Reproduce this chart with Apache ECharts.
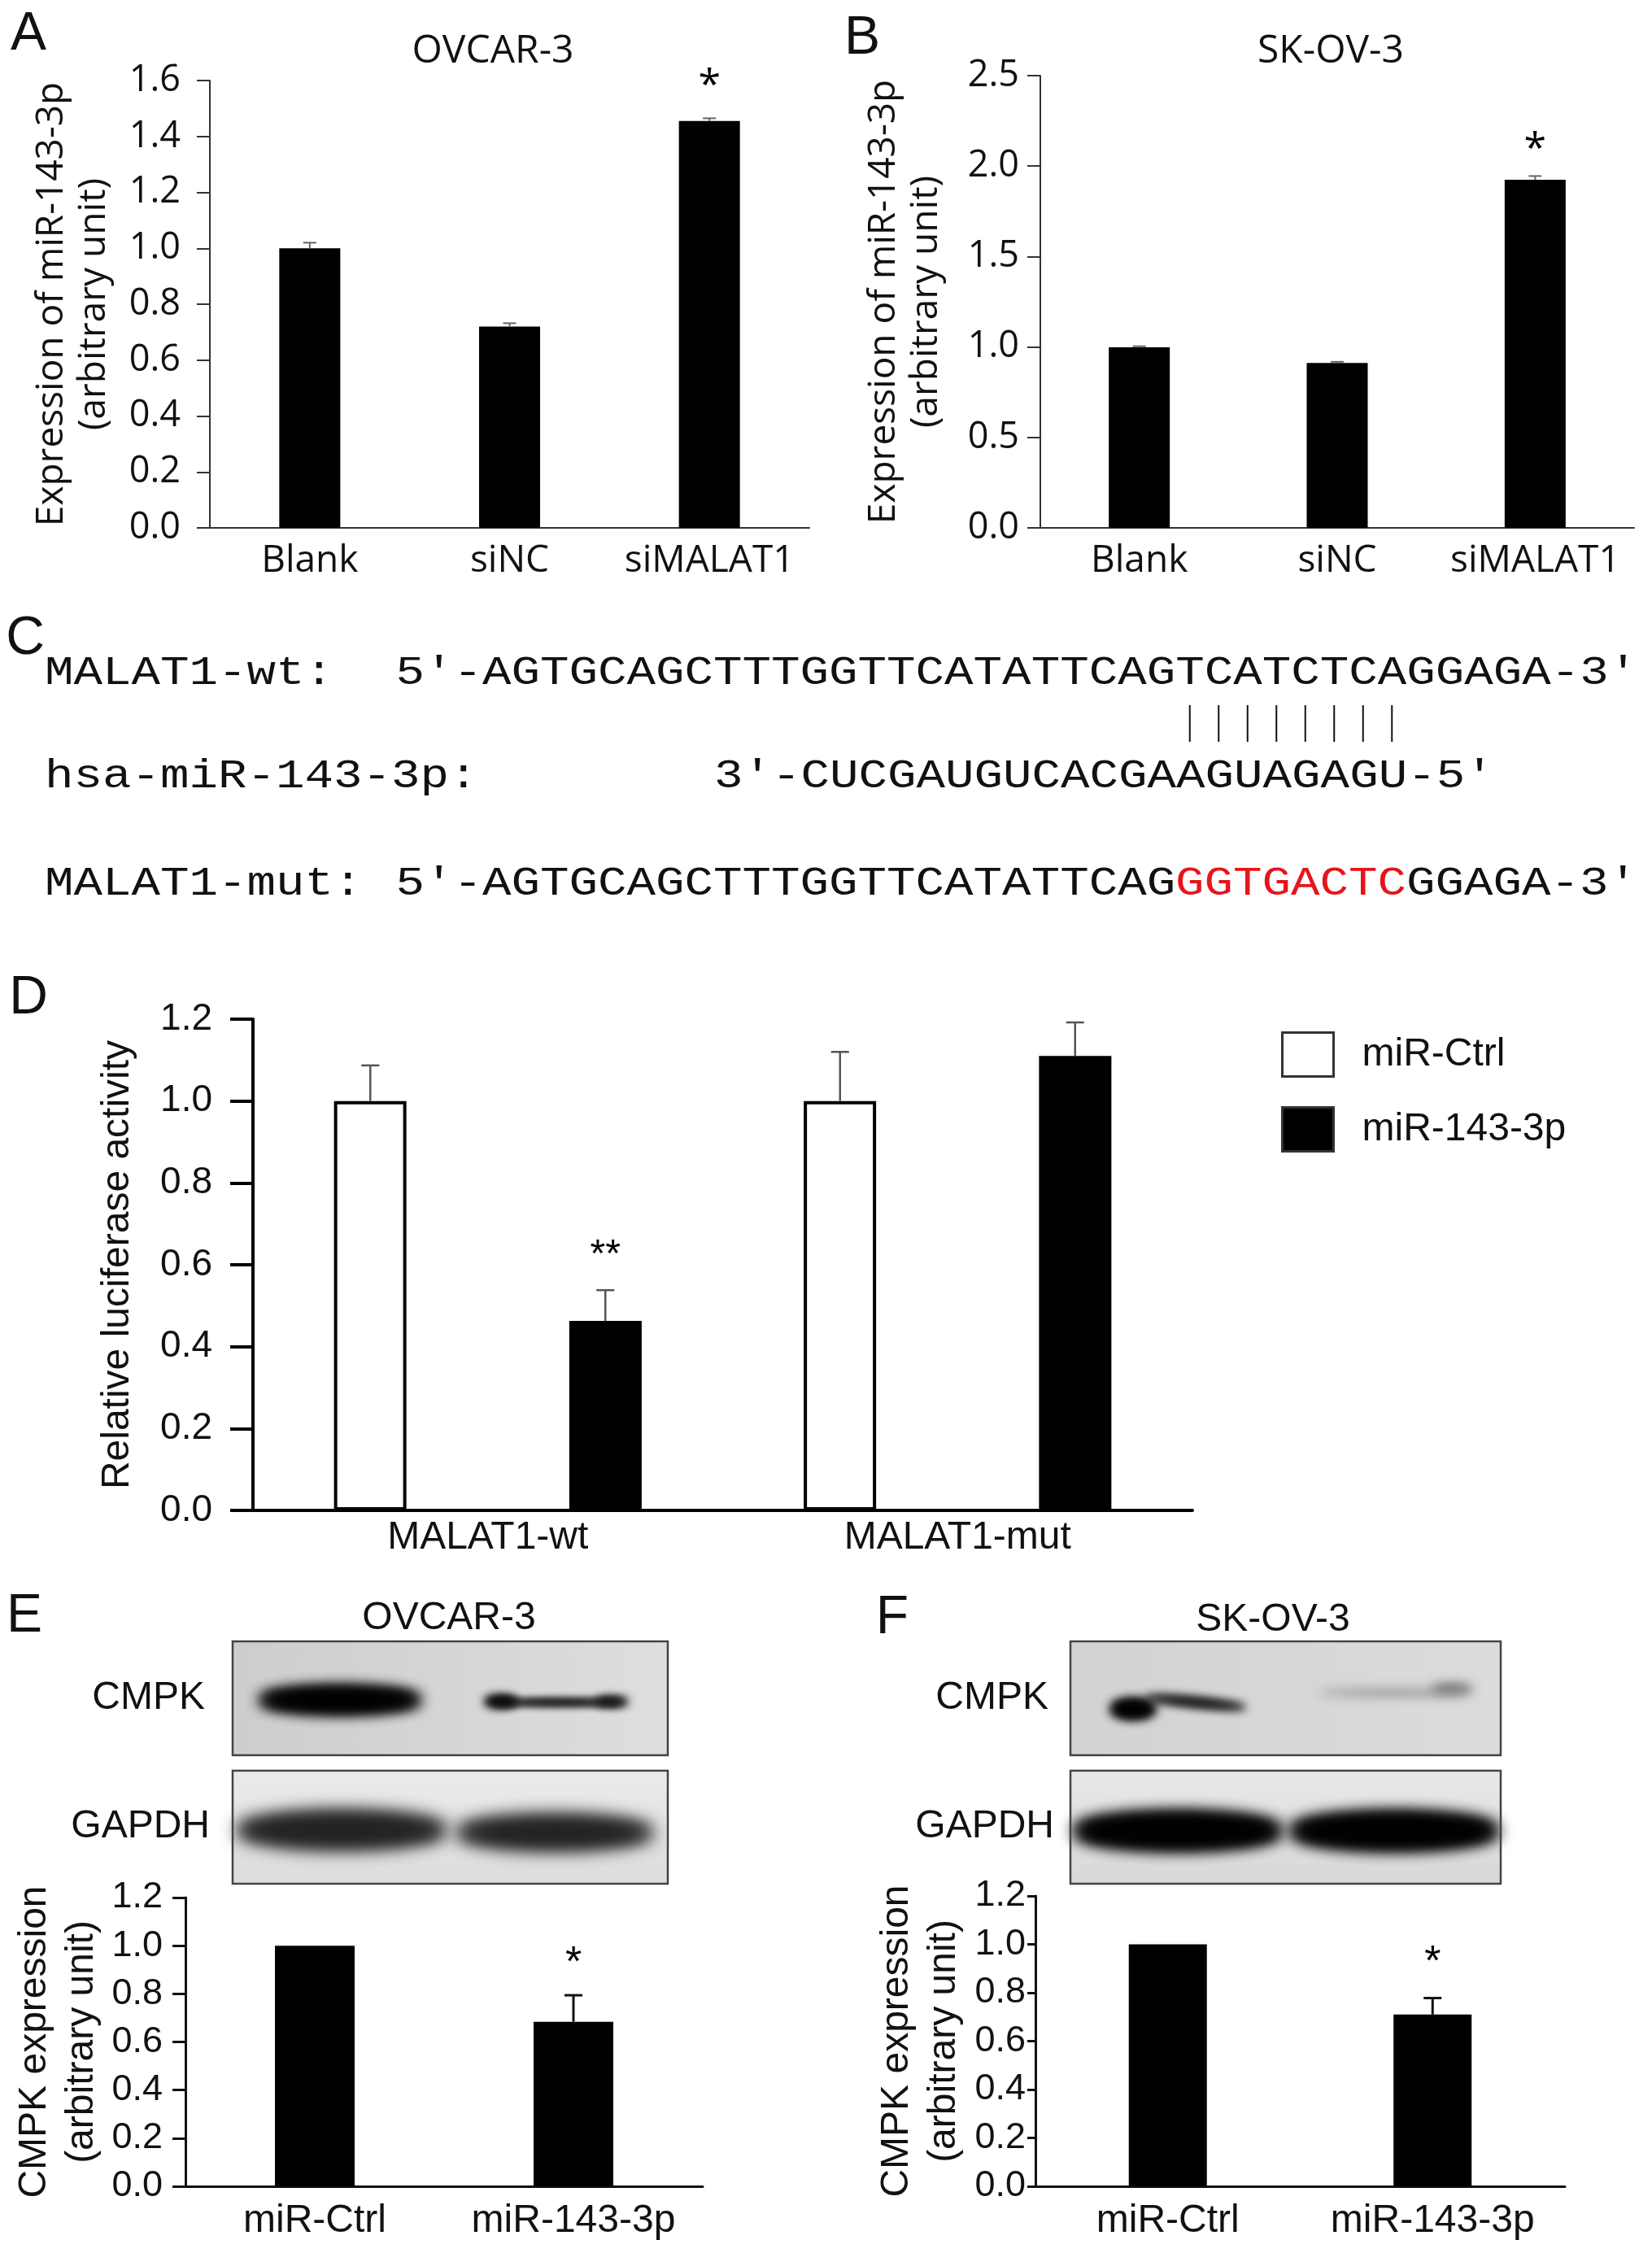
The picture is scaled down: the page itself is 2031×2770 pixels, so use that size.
<!DOCTYPE html>
<html>
<head>
<meta charset="utf-8">
<script src="https://cdn.jsdelivr.net/npm/echarts@6/dist/echarts.min.js"></script>
<style>
  html, body { margin: 0; padding: 0; background: #fff; }
  #main { width: 2031px; height: 2770px; }
</style>
</head>
<body>
<div id="main"></div>
<script>
// ---- A / B : miR-143-3p expression after MALAT1 knockdown
const abCats = ['Blank', 'siNC', 'siMALAT1'];
const aVals = [1.0, 0.72, 1.455];
const aErr = [0.02, 0.012, 0.01];
const aSig = ['', '', '*'];
const bVals = [0.998, 0.912, 1.925];
const bErr = [0.006, 0.006, 0.02];
const bSig = ['', '', '*'];

// ---- C : binding site sequences
const wtLabel = 'MALAT1-wt:';
const mirLabel = 'hsa-miR-143-3p:';
const mutLabel = 'MALAT1-mut:';
const wtSeq = '5′-AGTGCAGCTTTGGTTCATATTCAGTCATCTCAGGAGA-3′';
const mirSeq = '3′-CUCGAUGUCACGAAGUAGAGU-5′';
const mutHead = '5′-AGTGCAGCTTTGGTTCATATTCAG';
const mutSite = 'GGTGACTC';
const mutTail = 'GGAGA-3′';
const pairIdx = [24, 25, 26, 27, 28, 29, 30, 31]; // paired nucleotides of wt

// ---- D : luciferase reporter
const dCats = ['MALAT1-wt', 'MALAT1-mut'];
const dCtrl = [1.0, 1.0];
const dCtrlErr = [0.087, 0.12];
const dCtrlSig = ['', ''];
const dMir = [0.463, 1.11];
const dMirErr = [0.075, 0.082];
const dMirSig = ['**', ''];

// ---- E / F : CMPK western blot quantification
const efCats = ['miR-Ctrl', 'miR-143-3p'];
const eVals = [1.0, 0.684];
const eErr = [0, 0.11];
const eSig = ['', '*'];
const fVals = [1.0, 0.71];
const fErr = [0, 0.068];
const fSig = ['', '*'];

const SANS = "'Liberation Sans', Arial, sans-serif";
const OPEN = "'Open Sans', sans-serif";
const MONO = "'Liberation Mono', 'DejaVu Sans Mono', monospace";

const chart = echarts.init(document.getElementById('main'));

function catAxis(gi, data, fam, size, margin, lw, col) {
  return {
    type: 'category', gridIndex: gi, data: data,
    axisLine: { lineStyle: { color: col, width: lw } },
    axisTick: { show: false },
    axisLabel: { fontFamily: fam, fontSize: size, color: '#111', margin: margin, interval: 0 }
  };
}

function valAxis(gi, max, step, fam, size, margin, lw, col, tickLen, name, nameSize, nameGap, lh) {
  return {
    type: 'value', gridIndex: gi, min: 0, max: max, interval: step,
    splitLine: { show: false },
    axisLine: { show: true, lineStyle: { color: col, width: lw } },
    axisTick: { show: true, length: tickLen, lineStyle: { color: col, width: lw } },
    axisLabel: { fontFamily: fam, fontSize: size, color: '#111', margin: margin,
      formatter: v => v.toFixed(1) },
    name: name, nameLocation: 'middle', nameRotate: 90, nameGap: nameGap,
    nameTextStyle: { fontFamily: fam, fontSize: nameSize, color: '#111', lineHeight: lh }
  };
}

function errSeries(gi, vals, errs, sigs, o) {
  return {
    type: 'custom', xAxisIndex: gi, yAxisIndex: gi, z: 5,
    data: vals.map((v, i) => [i, v, errs[i]]),
    encode: { x: 0, y: 1 },
    renderItem: function (params, api) {
      const i = api.value(0), v = api.value(1), e = api.value(2);
      const p0 = api.coord([i, v]);
      const p1 = api.coord([i, v + e]);
      const cx = p0[0] + o.shift;
      const kids = [];
      if (e > 0) {
        kids.push({ type: 'line', shape: { x1: cx, y1: p0[1], x2: cx, y2: p1[1] },
          style: { stroke: o.color, lineWidth: o.lw } });
        kids.push({ type: 'line', shape: { x1: cx - o.cap, y1: p1[1], x2: cx + o.cap, y2: p1[1] },
          style: { stroke: o.color, lineWidth: o.lw } });
      }
      const s = sigs[params.dataIndex];
      if (s) {
        kids.push({ type: 'text', x: cx, y: p1[1] - o.starGap,
          style: { text: s, font: o.starFont, fill: '#000', align: 'center', verticalAlign: 'middle' } });
      }
      return { type: 'group', children: kids };
    }
  };
}

// ---- graphic: letters, titles, sequences, blots
const g = [];
function txt(x, y, text, font, align, fill, extra) {
  g.push(Object.assign({ type: 'text', x: x, y: y,
    style: { text: text, font: font, fill: fill || '#111', align: align || 'center', verticalAlign: 'middle' } }, extra || {}));
}
const LET = '66px ' + SANS;
txt(35, 43, 'A', LET); txt(1060, 48, 'B', LET); txt(31, 786, 'C', LET);
txt(35, 1228, 'D', LET); txt(30, 1988, 'E', LET); txt(1097, 1990, 'F', LET);
txt(606, 63, 'OVCAR-3', '48px ' + OPEN);
txt(1636, 63, 'SK-OV-3', '48px ' + OPEN);
txt(552, 1990, 'OVCAR-3', '48px ' + SANS);
txt(1565, 1992, 'SK-OV-3', '48px ' + SANS);

// sequences, monospace stretched to the reference pitch
const ADV = 35.5, SX = ADV / (50 * 0.6);
const MF = '50px ' + MONO;
const seqX = 486.5;
function mono(x, y, text, fill) {
  txt(x, y, text, MF, 'left', fill || '#111', { scaleX: SX });
}
mono(55, 828, wtLabel); mono(seqX, 828, wtSeq);
mono(55, 955, mirLabel); mono(878, 955, mirSeq);
mono(55, 1087, mutLabel); mono(seqX, 1087, mutHead);
mono(seqX + mutHead.length * ADV, 1087, mutSite, '#e8141c');
mono(seqX + (mutHead.length + mutSite.length) * ADV, 1087, mutTail);
pairIdx.forEach(k => {
  const x = seqX + (3 + k + 0.5) * ADV;
  g.push({ type: 'line', shape: { x1: x, y1: 867, x2: x, y2: 912 }, style: { stroke: '#111', lineWidth: 2 } });
});

// western blot images
function box(x, y, w, h, c1, c2, dir) {
  g.push({ type: 'rect', z: 1, shape: { x: x, y: y, width: w, height: h },
    style: { fill: new echarts.graphic.LinearGradient(0, 0, dir ? 1 : 0, dir ? 0 : 1,
      [{ offset: 0, color: c1 }, { offset: 1, color: c2 }]) } });
  g.push({ type: 'rect', z: 3, shape: { x: x, y: y, width: w, height: h },
    style: { fill: 'none', stroke: '#444', lineWidth: 2.5 } });
}
// soft band: only the blurred shadow of an off-canvas ellipse is visible
const OFF = 4000;
function band(cx, cy, rx, ry, col, blur, rot, passes) {
  for (let p = 0; p < (passes || 1); p++) {
    g.push({ type: 'ellipse', z: 2, x: cx - OFF, y: cy, rotation: rot || 0,
      shape: { cx: 0, cy: 0, rx: rx, ry: ry },
      style: { fill: col, shadowBlur: blur, shadowColor: col, shadowOffsetX: OFF } });
  }
}
// E
box(286, 2018, 535, 140, '#cdcdcd', '#dedede', true);
box(286, 2177, 535, 139, '#ebebeb', '#dcdcdc', false);
band(418, 2090, 98, 14, '#000', 18, 0, 3);
band(616, 2092, 20, 7, '#000', 12, 0, 2);
band(688, 2093, 78, 4, '#111', 10, 0, 2);
band(752, 2092, 20, 5, '#111', 12, 0, 2);
band(420, 2250, 128, 21, '#222', 22, 0, 2);
band(682, 2253, 120, 19, '#222', 22, 0, 2);
// F
box(1316, 2018, 529, 140, '#d2d2d2', '#dcdcdc', true);
box(1316, 2177, 529, 139, '#e8e8e8', '#d8d8d8', false);
band(1393, 2101, 26, 10, '#000', 14, 0, 3);
band(1470, 2093, 62, 5, '#111', 12, -0.1, 2);
band(1715, 2081, 95, 4, '#888', 14, 0, 1);
band(1785, 2076, 26, 6, '#666', 14, 0, 1);
band(1448, 2251, 126, 20, '#000', 20, 0, 3);
band(1714, 2251, 126, 20, '#000', 20, 0, 3);
txt(252, 2088, 'CMPK', '48px ' + SANS, 'right');
txt(258, 2246, 'GAPDH', '48px ' + SANS, 'right');
txt(1289, 2088, 'CMPK', '48px ' + SANS, 'right');
txt(1296, 2246, 'GAPDH', '48px ' + SANS, 'right');

const yName = 'Expression of miR-143-3p\n(arbitrary unit)';
const efName = 'CMPK expression\n(arbitrary unit)';
const dShift = 144.5;

const option = {
  backgroundColor: '#fff',
  animation: false,
  grid: [
    { left: 258, top: 99, width: 737, height: 550 },
    { left: 1279, top: 93, width: 730, height: 556 },
    { left: 311, top: 1253, width: 1155, height: 604 },
    { left: 228, top: 2333, width: 636, height: 355 },
    { left: 1273, top: 2331, width: 651, height: 357 }
  ],
  xAxis: [
    catAxis(0, abCats, OPEN, 46, 18, 2, '#333'),
    catAxis(1, abCats, OPEN, 46, 18, 2, '#333'),
    catAxis(2, dCats, SANS, 48, 10, 4, '#000'),
    catAxis(3, efCats, SANS, 48, 19, 3, '#111'),
    catAxis(4, efCats, SANS, 48, 19, 3, '#111')
  ],
  yAxis: [
    valAxis(0, 1.6, 0.2, OPEN, 45, 36, 2, '#333', 16, yName, 46, 116, 52),
    valAxis(1, 2.5, 0.5, OPEN, 45, 26, 2, '#333', 16, yName, 46, 114, 52),
    valAxis(2, 1.2, 0.2, SANS, 46, 50, 4, '#000', 28, 'Relative luciferase activity', 48, 138, 56),
    valAxis(3, 1.2, 0.2, SANS, 45, 28, 3, '#111', 16, efName, 48, 98, 58),
    valAxis(4, 1.2, 0.2, SANS, 45, 12, 3, '#111', 10, efName, 48, 83, 58)
  ],
  legend: {
    data: ['miR-Ctrl', 'miR-143-3p'],
    orient: 'vertical', left: 1575, top: 1268, padding: 0,
    itemWidth: 63, itemHeight: 54, itemGap: 35, icon: 'rect',
    itemStyle: { borderWidth: 3, borderColor: '#333' },
    textStyle: { fontFamily: SANS, fontSize: 48, color: '#111', padding: [0, 0, 0, 30] },
    selectedMode: false
  },
  series: [
    { type: 'bar', xAxisIndex: 0, yAxisIndex: 0, data: aVals, barWidth: 75, itemStyle: { color: '#000' } },
    errSeries(0, aVals, aErr, aSig, { shift: 0, color: '#666', lw: 2, cap: 8, starGap: 39, starFont: '50px ' + OPEN }),
    { type: 'bar', xAxisIndex: 1, yAxisIndex: 1, data: bVals, barWidth: 75, itemStyle: { color: '#000' } },
    errSeries(1, bVals, bErr, bSig, { shift: 0, color: '#666', lw: 2, cap: 8, starGap: 32, starFont: '50px ' + OPEN }),
    { name: 'miR-Ctrl', type: 'bar', xAxisIndex: 2, yAxisIndex: 2, data: dCtrl, barWidth: 89, barGap: '225%',
      itemStyle: { color: '#fff', borderColor: '#000', borderWidth: 4 } },
    { name: 'miR-143-3p', type: 'bar', xAxisIndex: 2, yAxisIndex: 2, data: dMir, barWidth: 89, barGap: '225%',
      itemStyle: { color: '#000', borderColor: '#000', borderWidth: 4 } },
    errSeries(2, dCtrl, dCtrlErr, dCtrlSig, { shift: -dShift, color: '#555', lw: 2.5, cap: 11, starGap: 42, starFont: '48px ' + SANS }),
    errSeries(2, dMir, dMirErr, dMirSig, { shift: dShift, color: '#555', lw: 2.5, cap: 11, starGap: 42, starFont: '48px ' + SANS }),
    { type: 'bar', xAxisIndex: 3, yAxisIndex: 3, data: eVals, barWidth: 98, itemStyle: { color: '#000' } },
    errSeries(3, eVals, eErr, eSig, { shift: 0, color: '#111', lw: 3, cap: 11, starGap: 38, starFont: '52px ' + SANS }),
    { type: 'bar', xAxisIndex: 4, yAxisIndex: 4, data: fVals, barWidth: 96, itemStyle: { color: '#000' } },
    errSeries(4, fVals, fErr, fSig, { shift: 0, color: '#111', lw: 3, cap: 11, starGap: 43, starFont: '52px ' + SANS })
  ],
  graphic: g
};

chart.setOption(option);
</script>
</body>
</html>
